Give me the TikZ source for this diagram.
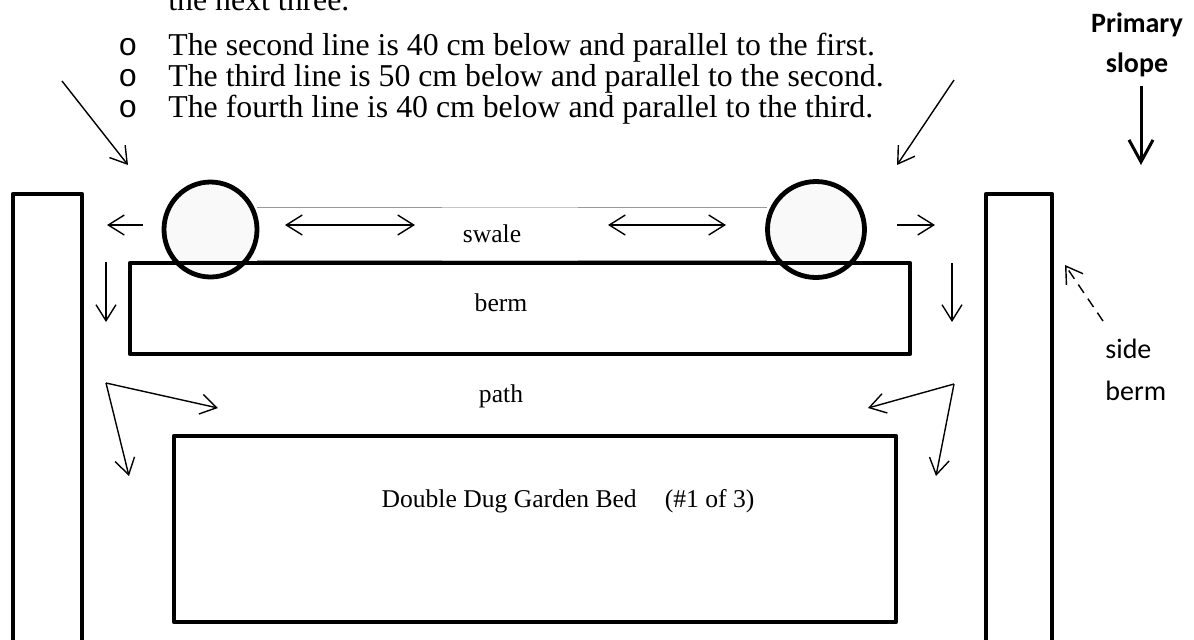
\documentclass[tikz,border=0pt]{standalone}
\usepackage{fontspec}
\setmainfont{Liberation Serif}
\newfontfamily\calibri{Carlito}
\newfontfamily\cour{Liberation Mono}
\usetikzlibrary{arrows.meta}
\begin{document}
\begin{tikzpicture}[x=0.5pt,y=-0.5pt,
  toptext/.style={font=\fontsize{15.9}{18}\selectfont, inner sep=0pt, anchor=base west},
  bulletmark/.style={font=\cour\fontsize{15.9}{18}\selectfont, inner sep=0pt, anchor=base},
  lbl/.style={font=\fontsize{12.8}{15}\selectfont, inner sep=0pt, anchor=base},
  clbl/.style={font=\calibri\fontsize{14}{16}\selectfont, inner sep=0pt},
  bed/.style={line width=2.2pt, line join=round},
  pipe/.style={line width=2.4pt, fill=gray!5},
  swaleline/.style={line width=0.5pt, draw=gray!80},
  swalelight/.style={line width=0.5pt, draw=gray!45},
  flow/.style={line width=0.7pt, -{Straight Barb[length=8pt,width=10pt]}},
  flowboth/.style={line width=0.7pt, {Straight Barb[length=8pt,width=10pt]}-{Straight Barb[length=8pt,width=10pt]}},
  slopearrow/.style={line width=1.5pt, -{Straight Barb[length=11pt,width=12pt,line width=1.5pt]}},
  sidearrow/.style={line width=0.7pt, dash pattern=on 5pt off 3.5pt, -{Straight Barb[length=8pt,width=10pt]}}
]
\useasboundingbox (0,0) rectangle (1194,639);
\clip (0,0) rectangle (1194,639);

% top text
\node[toptext] (t0) at (168,10) {the next three.};
\node[bulletmark] (b1) at (128,55) {o};
\node[toptext] (t1) at (168,55) {The second line is 40 cm below and parallel to the first.};
\node[bulletmark] (b2) at (128,86) {o};
\node[toptext] (t2) at (168,86) {The third line is 50 cm below and parallel to the second.};
\node[bulletmark] (b3) at (128,117) {o};
\node[toptext] (t3) at (168,117) {The fourth line is 40 cm below and parallel to the third.};

% primary slope
\node[clbl, anchor=base, font=\calibri\bfseries\fontsize{14}{16}\selectfont] (prim) at (1137,32) {Primary};
\node[clbl, anchor=base, font=\calibri\bfseries\fontsize{14}{16}\selectfont] (slope) at (1137,72) {slope};
\coordinate (ps1) at (1141,86);
\coordinate (ps2) at (1141,165);
\draw[slopearrow] (ps1) -- (ps2);

% side berms
\draw[bed] (13,700) -- (13,194) -- (82,194) -- (82,700);
\draw[bed] (986,700) -- (986,194) -- (1052,194) -- (1052,700);

% swale lines
\draw[swaleline] (257,207) -- (442,207);
\draw[swalelight] (442,207) -- (578,207);
\draw[swaleline] (578,207) -- (767,207);
\draw[swaleline] (257,260) -- (442,260);
\draw[swalelight] (442,260) -- (578,260);
\draw[swaleline] (578,260) -- (767,260);

% pipes (circles)
\draw[pipe] (210.5,229.5) ellipse [x radius=46.5, y radius=47.5];
\draw[pipe] (816,229.5) ellipse [x radius=48.5, y radius=48];

% berm
\draw[bed] (130,263) rectangle (910,354);
% garden bed
\draw[bed] (174,436) rectangle (896,622);

% labels
\node[lbl] (swale) at (492,242) {swale};
\node[lbl] (berm) at (501,311) {berm};
\node[lbl] (path) at (501,402) {path};
\node[lbl] (bedlbl) at (568,507) {Double Dug Garden Bed\hspace{1.1em}(\#1 of 3)};
\node[clbl, anchor=base west] (side) at (1105,358) {side};
\node[clbl, anchor=base west] (sberm) at (1105,400) {berm};

% diagonal arrows
\coordinate (dl1) at (62,81);
\coordinate (dl2) at (128,165);
\draw[flow] (dl1) -- (dl2);
\coordinate (dr1) at (954,80);
\coordinate (dr2) at (897,165);
\draw[flow] (dr1) -- (dr2);

% horizontal arrows
\coordinate (hl1) at (143,225);
\coordinate (hl2) at (107,225);
\draw[flow] (hl1) -- (hl2);
\coordinate (hr1) at (897,225);
\coordinate (hr2) at (935,225);
\draw[flow] (hr1) -- (hr2);
\coordinate (dbl1) at (285,225);
\coordinate (dbl2) at (415,225);
\draw[flowboth] (dbl1) -- (dbl2);
\coordinate (dbr1) at (608,225);
\coordinate (dbr2) at (726,225);
\draw[flowboth] (dbr1) -- (dbr2);

% down arrows
\coordinate (dnl1) at (106,262);
\coordinate (dnl2) at (106,322);
\draw[flow] (dnl1) -- (dnl2);
\coordinate (dnr1) at (952,263);
\coordinate (dnr2) at (952,322);
\draw[flow] (dnr1) -- (dnr2);

% bent arrows
\coordinate (cl) at (106,383);
\coordinate (cla) at (218,408);
\coordinate (clb) at (129,476);
\draw[flow] (cl) -- (cla);
\draw[flow] (cl) -- (clb);
\coordinate (cr) at (954,384);
\coordinate (cra) at (868,408);
\coordinate (crb) at (936,476);
\draw[flow] (cr) -- (cra);
\draw[flow] (cr) -- (crb);

% dashed arrow to side berm
\coordinate (sd1) at (1103,321);
\coordinate (sd2) at (1065,265);
\draw[sidearrow] (sd1) -- (sd2);
\end{tikzpicture}
\end{document}
